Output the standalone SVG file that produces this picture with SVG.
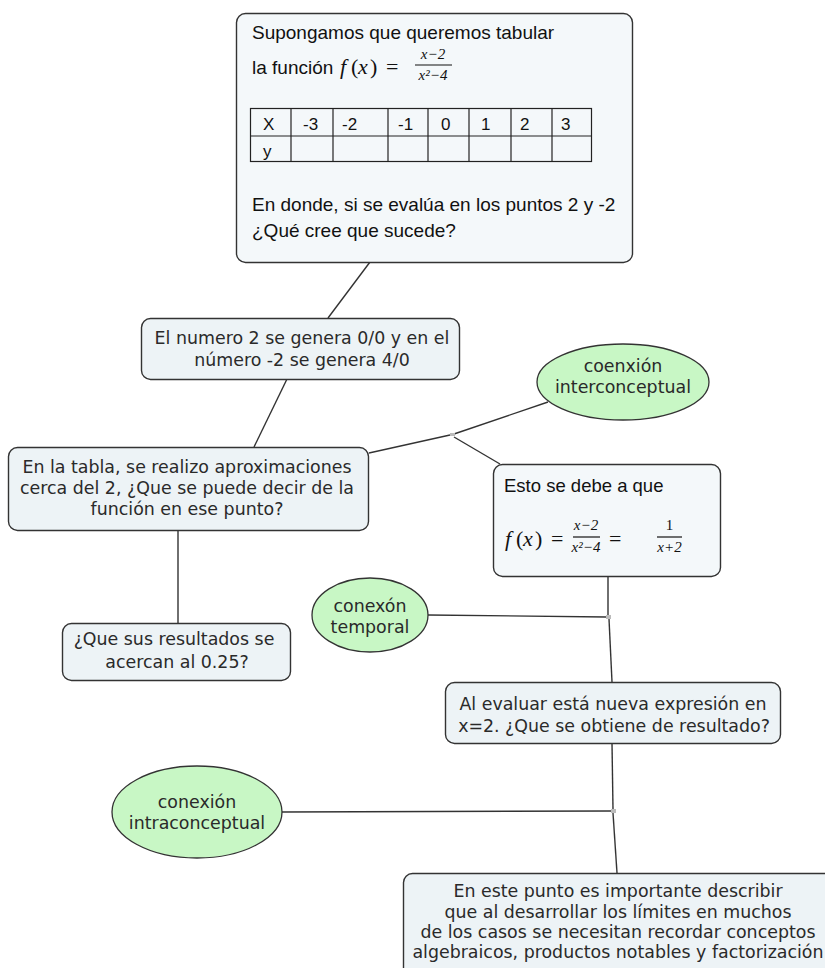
<svg xmlns="http://www.w3.org/2000/svg" width="825" height="968" viewBox="0 0 825 968">
<style>
.box{fill:#edf3f6;stroke:#333;stroke-width:1.4}
.wbox{fill:#f4f8fa;stroke:#333;stroke-width:1.4}
.ell{fill:#c8f7c5;stroke:#333;stroke-width:1.3}
.v{font-family:"DejaVu Sans",Verdana,sans-serif;font-size:17.4px;fill:#2a2a2a;text-anchor:middle}
.c{font-family:"Liberation Sans",Arial,sans-serif;fill:#111}
.t{font-family:"Liberation Sans",Arial,sans-serif;font-size:17px;fill:#111}
.m{font-family:"Liberation Serif","Times New Roman",serif;font-style:italic;fill:#111}
.mu{font-family:"Liberation Serif","Times New Roman",serif;fill:#111}
.fr{font-family:"Liberation Serif","Times New Roman",serif;font-style:italic;font-size:15px;fill:#111;text-anchor:middle}
.fn{font-family:"Liberation Serif","Times New Roman",serif;font-size:15px;fill:#111;text-anchor:middle}
.ln{stroke:#333;stroke-width:1.4;fill:none}
.tb{stroke:#222;stroke-width:1.2;fill:none}
.j{fill:#bbb}
</style>
<g id="connectors">
<line class="ln" x1="370" y1="262" x2="328" y2="318"/>
<line class="ln" x1="287" y1="379" x2="254" y2="447"/>
<line class="ln" x1="369" y1="453" x2="450" y2="435"/>
<line class="ln" x1="454" y1="434" x2="548" y2="402"/>
<line class="ln" x1="454" y1="437" x2="500" y2="464"/>
<line class="ln" x1="178" y1="530" x2="178" y2="623"/>
<line class="ln" x1="608" y1="576" x2="608" y2="615"/>
<line class="ln" x1="428" y1="615" x2="606" y2="617"/>
<line class="ln" x1="609" y1="619" x2="612" y2="682"/>
<line class="ln" x1="612" y1="743" x2="613" y2="809"/>
<line class="ln" x1="282" y1="812" x2="611" y2="811"/>
<line class="ln" x1="613" y1="813" x2="617" y2="873"/>
<rect class="j" x="450" y="433" width="5" height="3"/>
<rect class="j" x="606" y="615" width="5" height="4"/>
<rect class="j" x="611" y="809" width="5" height="4"/>
</g>
<g id="n1">
<rect class="wbox" x="236.5" y="13.5" width="396" height="249" rx="9"/>
<text class="c" x="252" y="39" font-size="19">Supongamos que queremos tabular</text>
<text class="c" x="252" y="74" font-size="19">la función</text>
<text class="m" x="340" y="74" font-size="22">f</text>
<text class="mu" x="351" y="74" font-size="22">(</text>
<text class="m" x="358" y="74" font-size="22">x</text>
<text class="mu" x="370" y="74" font-size="22">)</text>
<text class="mu" x="386" y="74" font-size="22">=</text>
<text class="fr" x="433" y="59">x−2</text>
<line x1="415" y1="65" x2="452" y2="65" stroke="#111" stroke-width="1.2"/>
<text class="fr" x="433" y="80">x²−4</text>
<rect class="tb" x="250.5" y="108.5" width="341" height="53"/>
<line class="tb" x1="250" y1="136" x2="592" y2="136"/>
<line class="tb" x1="291" y1="108" x2="291" y2="162"/>
<line class="tb" x1="333" y1="108" x2="333" y2="162"/>
<line class="tb" x1="388" y1="108" x2="388" y2="162"/>
<line class="tb" x1="428" y1="108" x2="428" y2="162"/>
<line class="tb" x1="469" y1="108" x2="469" y2="162"/>
<line class="tb" x1="511" y1="108" x2="511" y2="162"/>
<line class="tb" x1="552" y1="108" x2="552" y2="162"/>
<text class="t" x="263" y="130">X</text>
<text class="t" x="303" y="130">-3</text>
<text class="t" x="342" y="130">-2</text>
<text class="t" x="398" y="130">-1</text>
<text class="t" x="441" y="130">0</text>
<text class="t" x="481" y="130">1</text>
<text class="t" x="520" y="130">2</text>
<text class="t" x="561" y="130">3</text>
<text class="t" x="263" y="157">y</text>
<text class="c" x="252" y="211" font-size="19">En donde, si se evalúa en los puntos 2 y -2</text>
<text class="c" x="252" y="237" font-size="19">¿Qué cree que sucede?</text>
</g>
<g id="n2">
<rect class="box" x="141.5" y="318.5" width="318" height="61" rx="9"/>
<text class="v" x="302" y="344">El numero 2 se genera 0/0 y en el</text>
<text class="v" x="302" y="366">número -2 se genera 4/0</text>
</g>
<g id="n3">
<rect class="box" x="8.5" y="447.5" width="360" height="83" rx="9"/>
<text class="v" x="187" y="473">En la tabla, se realizo aproximaciones</text>
<text class="v" x="187" y="494">cerca del 2, ¿Que se puede decir de la</text>
<text class="v" x="187" y="515">función en ese punto?</text>
</g>
<g id="n4">
<rect class="box" x="62.5" y="623.5" width="228" height="57" rx="9"/>
<text class="v" x="174" y="645">¿Que sus resultados se</text>
<text class="v" x="177" y="668">acercan al 0.25?</text>
</g>
<g id="e1">
<ellipse class="ell" cx="623" cy="382" rx="86" ry="38"/>
<text class="v" x="623" y="372">coenxión</text>
<text class="v" x="623" y="393">interconceptual</text>
</g>
<g id="n5">
<rect class="wbox" x="493.5" y="464.5" width="227" height="112" rx="9"/>
<text class="c" x="504" y="492" font-size="18.5">Esto se debe a que</text>
<text class="m" x="505" y="546" font-size="22">f</text>
<text class="mu" x="516" y="546" font-size="22">(</text>
<text class="m" x="523" y="546" font-size="22">x</text>
<text class="mu" x="535" y="546" font-size="22">)</text>
<text class="mu" x="551" y="546" font-size="22">=</text>
<text class="fr" x="586" y="530">x−2</text>
<line x1="573" y1="537" x2="600" y2="537" stroke="#111" stroke-width="1.2"/>
<text class="fr" x="586" y="552">x²−4</text>
<text class="mu" x="609" y="546" font-size="22">=</text>
<text class="fn" x="669.5" y="530">1</text>
<line x1="657" y1="537" x2="682" y2="537" stroke="#111" stroke-width="1.2"/>
<text class="fr" x="669.5" y="552">x+2</text>
</g>
<g id="e2">
<ellipse class="ell" cx="370" cy="615" rx="58" ry="37"/>
<text class="v" x="370" y="612">conexón</text>
<text class="v" x="370" y="633">temporal</text>
</g>
<g id="n6">
<rect class="box" x="445.5" y="682.5" width="335" height="61" rx="9"/>
<text class="v" x="613" y="710">Al evaluar está nueva expresión en</text>
<text class="v" x="614" y="732">x=2. ¿Que se obtiene de resultado?</text>
</g>
<g id="e3">
<ellipse class="ell" cx="197" cy="812" rx="85" ry="46"/>
<text class="v" x="197" y="808">conexión</text>
<text class="v" x="197" y="829">intraconceptual</text>
</g>
<g id="n7">
<rect class="box" x="403.5" y="873.5" width="440" height="110" rx="9"/>
<text class="v" x="618" y="897">En este punto es importante describir</text>
<text class="v" x="618" y="918">que al desarrollar los límites en muchos</text>
<text class="v" x="618" y="938">de los casos se necesitan recordar conceptos</text>
<text class="v" x="618" y="958">algebraicos, productos notables y factorización</text>
</g>
</svg>
